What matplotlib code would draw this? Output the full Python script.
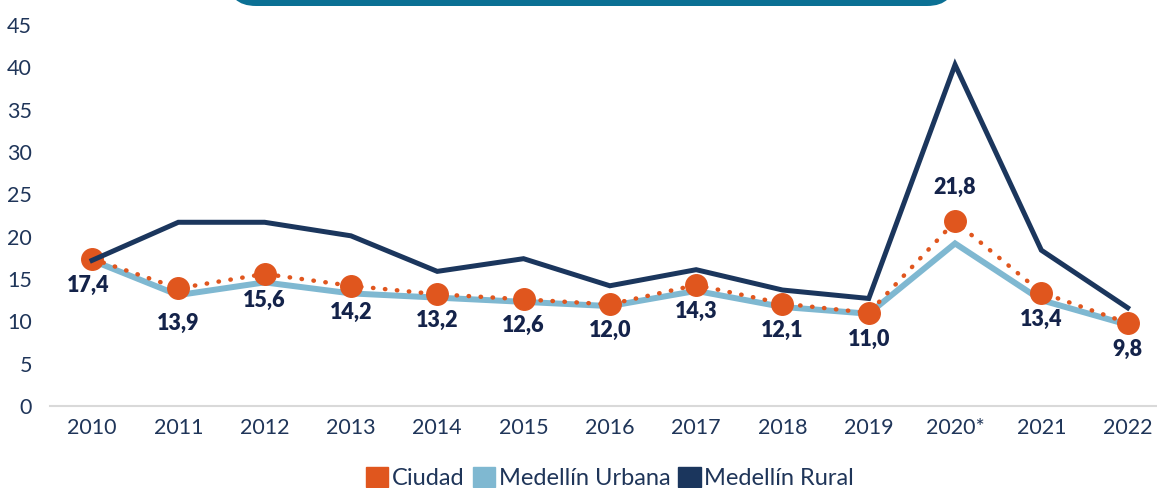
import matplotlib.pyplot as plt
from matplotlib.patches import FancyBboxPatch, Patch

years = ["2010", "2011", "2012", "2013", "2014", "2015", "2016",
         "2017", "2018", "2019", "2020*", "2021", "2022"]
ciudad = [17.4, 13.9, 15.6, 14.2, 13.2, 12.6, 12.0, 14.3, 12.1, 11.0, 21.8, 13.4, 9.8]
urbana = [17.2, 13.1, 14.6, 13.3, 12.8, 12.3, 11.8, 13.6, 11.7, 10.9, 19.2, 12.5, 9.6]
rural = [17.2, 21.7, 21.7, 20.1, 15.9, 17.4, 14.2, 16.1, 13.7, 12.7, 40.3, 18.4, 11.6]

ORANGE = "#E0561E"
LIGHT = "#7FB8D1"
NAVY = "#1B365D"
TEXT = "#1F3559"
LABEL = "#14234A"

plt.rcParams['font.family'] = ['Lato', 'DejaVu Sans']

W, H = 1157, 488
fig = plt.figure(figsize=(W / 100, H / 100), dpi=100)
ax = fig.add_axes([50 / W, (H - 406) / H, 1 - 50 / W, (406 - 25) / H])

x = list(range(len(years)))
ax.plot(x, urbana, color=LIGHT, lw=4.3, solid_joinstyle='miter', zorder=2)
ax.plot(x, ciudad, color=ORANGE, lw=3.2, linestyle=(0, (0.1, 2.6)),
        dash_capstyle='round', zorder=3)
ax.plot(x, ciudad, linestyle='none', marker='o', ms=15.5, color=ORANGE,
        mec=ORANGE, zorder=4)
ax.plot(x, rural, color=NAVY, lw=3.6, solid_joinstyle='miter', zorder=5)

# data labels
for i, v in enumerate(ciudad):
    txt = f"{v:.1f}".replace(".", ",")
    if years[i] == "2020*":
        off = 17
    else:
        off = -25 if i == 1 else -19
    dx = -3 if i == 0 else 0
    ax.annotate(txt, (i, v), xytext=(dx, off), textcoords='offset points',
                ha='center', va='bottom' if off > 0 else 'center',
                fontsize=15.5, fontweight='heavy', color=LABEL, zorder=6)

ax.set_xlim(-0.487, 12.34)
ax.set_ylim(0, 45)
ax.set_yticks(range(0, 46, 5))
ax.set_xticks(x)
ax.set_xticklabels(years)
for s in ['top', 'right', 'left']:
    ax.spines[s].set_visible(False)
ax.spines['bottom'].set_color('#D9D9D9')
ax.spines['bottom'].set_linewidth(1.5)
ax.tick_params(axis='both', length=0, labelsize=15.5, labelcolor=TEXT)
ax.tick_params(axis='y', pad=13)
ax.tick_params(axis='x', pad=9)

# legend
handles = [Patch(color=ORANGE, label="Ciudad"),
           Patch(color=LIGHT, label="Medellín Urbana"),
           Patch(color=NAVY, label="Medellín Rural")]
fig.legend(handles=handles, loc='center', bbox_to_anchor=(610 / W, 1 - 478 / H),
           ncol=3, frameon=False, fontsize=17, handlelength=0.95,
           handleheight=0.95, handletextpad=0.15, columnspacing=0.35,
           labelcolor=TEXT)

# teal title box cut off at the top (pixel coordinates)
box = FancyBboxPatch((228, H - 6), 727, 120,
                     boxstyle="round,pad=0,rounding_size=28",
                     transform=None, facecolor="#0B7094", edgecolor='none')
fig.patches.append(box)

fig.savefig("out.png", dpi=100)
